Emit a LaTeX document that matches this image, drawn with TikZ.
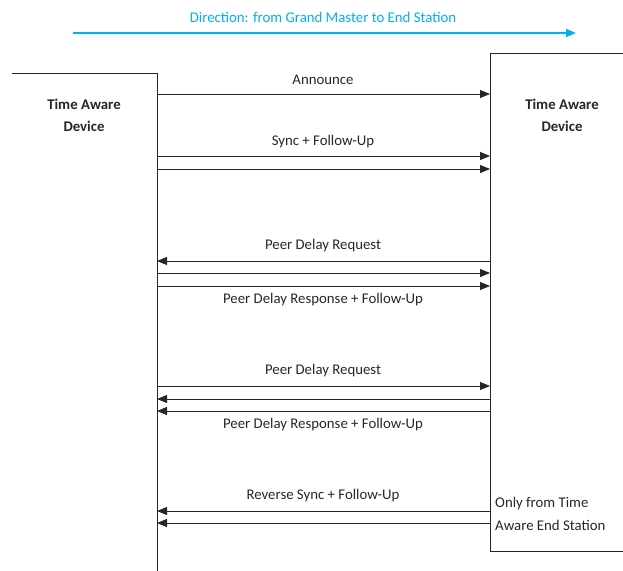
\documentclass[tikz,border=0pt]{standalone}
\usepackage{fontspec}
\setmainfont{Carlito}
\usetikzlibrary{arrows.meta}
\definecolor{dirblue}{RGB}{0,176,240}
\tikzset{
  msg/.style={line width=0.9pt, draw=black!85, -{Triangle[length=10pt,width=8pt]}},
  lbl/.style={font=\fontsize{14.8}{17}\selectfont, inner sep=0pt, text=black!85},
  dev/.style={font=\fontsize{14.8}{22}\selectfont\bfseries, inner sep=0pt, align=center, text=black!85},
  life/.style={line width=0.9pt, draw=black!85}
}
\begin{document}
\begin{tikzpicture}[x=1pt,y=-1pt]
\useasboundingbox (0,0) rectangle (623,570);
% direction
\node[lbl, text=dirblue] (dir) at (323,17) {Direction: from Grand Master to End Station};
\coordinate (d1) at (73,33);
\coordinate (d2) at (576,33);
\draw[line width=1.3pt, draw=dirblue, -{Triangle[length=10pt,width=8pt]}] (d1) -- (d2);
% left device
\coordinate (ltl) at (12,73);
\coordinate (ltr) at (157,73);
\coordinate (lbot) at (157,571);
\draw[life] (ltl) -- (ltr) -- (lbot);
\node[dev] (ldev) at (84,115) {Time Aware\\Device};
% right device
\coordinate (rtr) at (624,53);
\coordinate (rtl) at (490,53);
\coordinate (rbl) at (490,551);
\coordinate (rbr) at (624,551);
\draw[life] (rtr) -- (rtl) -- (rbl) -- (rbr);
\node[dev] (rdev) at (562,115) {Time Aware\\Device};
% messages
\foreach \n/\y in {a/94, s1/156, s2/169, p1/261, q1/273, q2/286, p2/386, q3/399, q4/411, r1/511, r2/523} {
  \coordinate (L\n) at (157,\y);
  \coordinate (R\n) at (490,\y);
}
\draw[msg] (La) -- (Ra);
\draw[msg] (Ls1) -- (Rs1);
\draw[msg] (Ls2) -- (Rs2);
\draw[msg] (Rp1) -- (Lp1);
\draw[msg] (Lq1) -- (Rq1);
\draw[msg] (Lq2) -- (Rq2);
\draw[msg] (Lp2) -- (Rp2);
\draw[msg] (Rq3) -- (Lq3);
\draw[msg] (Rq4) -- (Lq4);
\draw[msg] (Rr1) -- (Lr1);
\draw[msg] (Rr2) -- (Lr2);
% labels
\node[lbl] (t1) at (323,80) {Announce};
\node[lbl] (t2) at (323,142) {Sync + Follow-Up};
\node[lbl] (t3) at (323,246) {Peer Delay Request};
\node[lbl] (t4) at (323,300) {Peer Delay Response + Follow-Up};
\node[lbl] (t5) at (323,371) {Peer Delay Request};
\node[lbl] (t6) at (323,425) {Peer Delay Response + Follow-Up};
\node[lbl] (t7) at (323,496) {Reverse Sync + Follow-Up};
\node[lbl, anchor=west] (o1) at (495,504) {Only from Time};
\node[lbl, anchor=west] (o2) at (495,525) {Aware End Station};
\end{tikzpicture}
\end{document}
